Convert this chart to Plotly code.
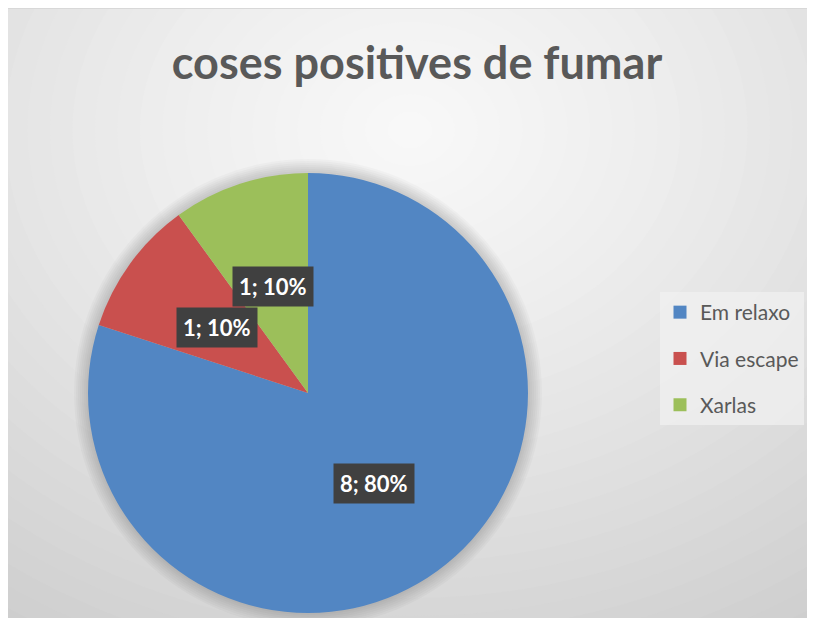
import math
import plotly.graph_objects as go

# the page body keeps an 8px margin, so the figure is drawn 8px in from the corner
OFF = 8
W, H = 815 - OFF, 618 - OFF

labels = ["Em relaxo", "Via escape", "Xarlas"]
values = [8, 1, 1]
colors = ["#5286c3", "#c9504e", "#9cbf5a"]
title_text = "coses positives de fumar"

# pie geometry in screen pixels
CX, CY, R = 308 - OFF, 393 - OFF, 220


def px(x):
    return x / W


def py_(y):
    return 1 - y / H


shapes = []

# gray background with soft radial gradient
steps = 40
gx, gy = 410 - OFF, 130 - OFF
for i in range(steps, 0, -1):
    d = 720 * i / steps
    c = int(249 - 54 * (i / steps) ** 1.25)
    shapes.append(dict(type="circle", xref="paper", yref="paper", layer="below",
                       x0=px(gx - d * 1.25), x1=px(gx + d * 1.25),
                       y0=py_(gy + d), y1=py_(gy - d),
                       fillcolor="rgb(%d,%d,%d)" % (c, c, c), line=dict(width=0)))

# thin top edge line
shapes.append(dict(type="rect", xref="paper", yref="paper", layer="below",
                   x0=0, x1=1, y0=py_(1), y1=1, fillcolor="#d8d8d8", line=dict(width=0)))

# soft shadow around the pie
for k in range(14, 0, -2):
    shapes.append(dict(type="circle", xref="paper", yref="paper", layer="below",
                       x0=px(CX - R - k), x1=px(CX + R + k),
                       y0=py_(CY + R + k), y1=py_(CY - R - k),
                       fillcolor="rgba(0,0,0,0.025)", line=dict(width=0)))

fig = go.Figure()

fig.add_trace(go.Pie(
    labels=labels,
    values=values,
    sort=False,
    direction="clockwise",
    rotation=0,
    marker=dict(colors=colors, line=dict(width=0)),
    textinfo="none",
    hoverinfo="label+value+percent",
    showlegend=False,
    domain=dict(x=[px(CX - R), px(CX + R)], y=[py_(CY + R), py_(CY - R)]),
))

# legend entries as dummy traces so the spacing can be matched
for lab, col in zip(labels, colors):
    fig.add_trace(go.Scatter(
        x=[None], y=[None], mode="markers", name=lab, legendgroup=lab,
        marker=dict(symbol="square", size=13, color=col),
    ))

# data labels placed at the middle angle of each slice
annotations = []
total = sum(values)
acc = 0
for v in values:
    mid = (acc + v / 2) / total * 2 * math.pi
    acc += v
    lx = CX + 0.51 * R * math.sin(mid)
    ly = CY - 0.51 * R * math.cos(mid)
    annotations.append(dict(
        x=px(lx), y=py_(ly), xref="paper", yref="paper", showarrow=False,
        text="<b>%d; %d%%</b>" % (v, round(v / total * 100)),
        font=dict(family="Lato", size=22, color="white"),
        bgcolor="#404040", borderpad=6, xanchor="center", yanchor="middle",
    ))

fig.update_layout(
    width=W, height=H,
    margin=dict(l=0, r=0, t=0, b=0),
    paper_bgcolor="white",
    plot_bgcolor="rgba(0,0,0,0)",
    title=dict(text="<b>" + title_text + "</b>", x=(417 - OFF) / W, y=py_(63 - OFF),
               xanchor="center", yanchor="middle",
               font=dict(family="Lato", size=45, color="#595959")),
    xaxis=dict(visible=False),
    yaxis=dict(visible=False),
    legend=dict(x=px(660 - OFF), y=py_(292 - OFF), xanchor="left", yanchor="top",
                bgcolor="rgba(240,240,240,0.75)",
                font=dict(family="Lato", size=21, color="#595959"),
                tracegroupgap=16, itemwidth=30),
    shapes=shapes,
    annotations=annotations,
)

fig.write_html("out.html")
